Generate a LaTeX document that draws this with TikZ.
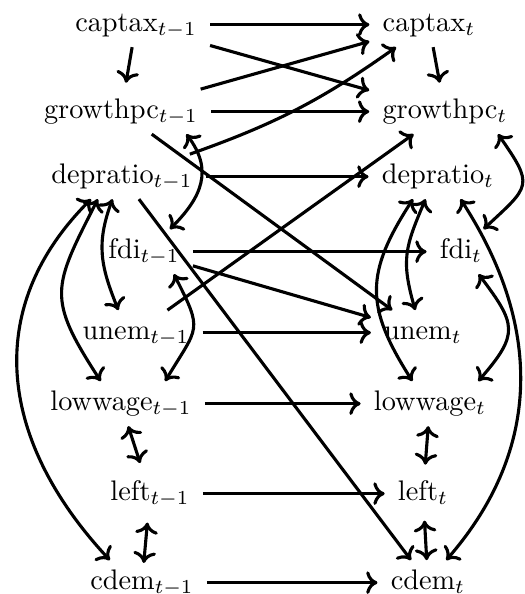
\documentclass[tikz,border=0pt]{standalone}
\usetikzlibrary{arrows.meta}
\begin{document}
\begin{tikzpicture}[x=0.3533pt,y=-0.3533pt,
  v/.style={anchor=base, text height=7pt, text depth=2.5pt, inner xsep=4.5pt, inner ysep=3pt},
  >={Computer Modern Rightarrow[length=4pt,width=8pt]},
  ar/.style={->, line width=1.1pt},
  br/.style={<->, line width=1.1pt}]
\useasboundingbox (0,0) rectangle (525,594);
% left column
\node[v] (c1) at (136,31) {captax$_{t-1}$};
\node[v] (g1) at (121,118) {growthpc$_{t-1}$};
\node[v] (d1) at (122,183) {depratio$_{t-1}$};
\node[v] (f1) at (144,258) {fdi$_{t-1}$};
\node[v] (u1) at (136,339) {unem$_{t-1}$};
\node[v] (w1) at (121,410) {lowwage$_{t-1}$};
\node[v] (l1) at (150,500) {left$_{t-1}$};
\node[v] (m1) at (142,589) {cdem$_{t-1}$};
% right column
\node[v] (c2) at (429,31) {captax$_{t}$};
\node[v] (g2) at (445,118) {growthpc$_{t}$};
\node[v] (d2) at (438,183) {depratio$_{t}$};
\node[v] (f2) at (461,258) {fdi$_{t}$};
\node[v] (u2) at (423,339) {unem$_{t}$};
\node[v] (w2) at (430,410) {lowwage$_{t}$};
\node[v] (l2) at (423,500) {left$_{t}$};
\node[v] (m2) at (428,589) {cdem$_{t}$};
% horizontal
\draw[ar] (c1) -- (c2);
\draw[ar] (g1) -- (g2);
\draw[ar] (d1) -- (d2);
\draw[ar] (f1) -- (f2);
\draw[ar] (u1) -- (u2);
\draw[ar] (w1) -- (w2);
\draw[ar] (l1) -- (l2);
\draw[ar] (m1) -- (m2);
% cross
\draw[ar] (c1) -- (g2);
\draw[ar] (g1) -- (c2);
\draw[ar] (d1) to[bend right=8] (c2);
\draw[ar] (g1) -- (u2);
\draw[ar] (u1) -- (g2);
\draw[ar] (d1) -- (m2);
\draw[ar] (f1) -- (u2);
% vertical
\draw[ar, shorten >=2.3pt] (c1) -- (g1);
\draw[ar, shorten >=2.3pt] (c2) -- (g2);
\draw[br, shorten >=3pt] (w1) -- (l1);
\draw[br, shorten <=2.3pt, shorten >=-1pt] (l1) -- (m1);
\draw[br, shorten >=2.3pt] (w2) -- (l2);
\draw[br, shorten <=1.6pt] (l2) -- (m2);
% curves left
\draw[br] (g1.-19) to[out=-53,in=45,looseness=1.2] (f1.41);
\draw[br] (d1.-113) to[out=-110,in=112,looseness=1.1] (u1.128);
\draw[br] (d1.-137) to[out=-117,in=123,looseness=1.4] (w1.132);
\draw[br] (d1.-144) to[out=-135,in=133,looseness=1.12] (m1.145);
\draw[br] (f1.-37) to[out=-63,in=59,looseness=1.55] (w1.27);
% curves right
\draw[br] (g2.-23) to[out=-55,in=43,looseness=1.7] (f2.45);
\draw[br] (d2.-45) to[out=-57,in=49,looseness=1.05] (m2.51);
\draw[br] (f2.-52) to[out=-53,in=49,looseness=1.5] (w2.25);
\draw[br] (d2.-138) to[out=-123,in=122.5,looseness=1.24] (w2.128);
\draw[br] (d2.-119) to[out=-113,in=106,looseness=1.2] (u2.109);
\end{tikzpicture}
\end{document}
